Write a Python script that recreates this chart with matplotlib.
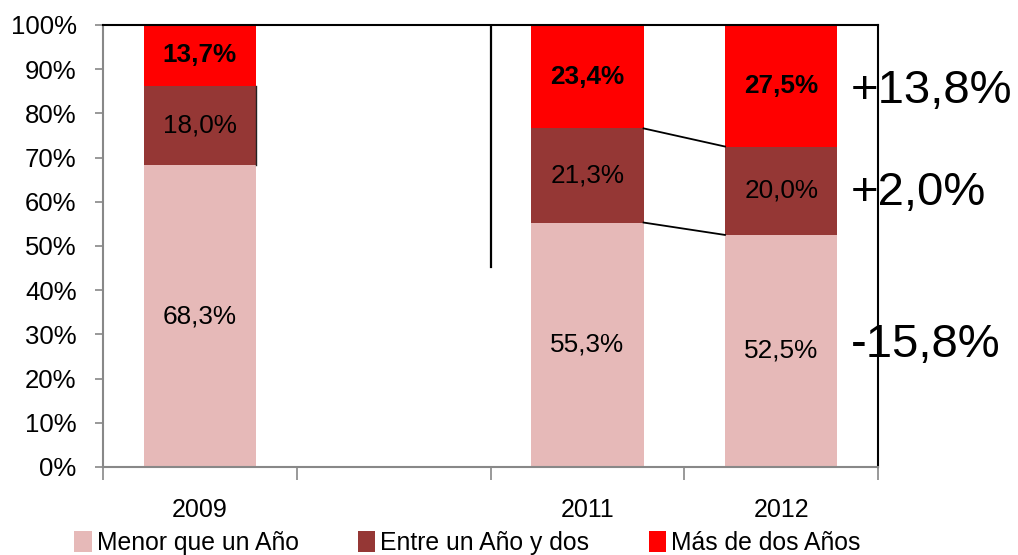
import matplotlib
matplotlib.use("Agg")
import matplotlib.pyplot as plt
from matplotlib.patches import Patch
from matplotlib.ticker import FixedLocator, PercentFormatter

plt.rcParams['font.family'] = ['Liberation Sans', 'DejaVu Sans']

years = ["2009", "2010", "2011", "2012"]
menor = [68.3, None, 55.3, 52.5]
entre = [18.0, None, 21.3, 20.0]
mas = [13.7, None, 23.4, 27.5]
series_names = ["Menor que un Año", "Entre un Año y dos", "Más de dos Años"]
changes = ["+13,8%", "+2,0%", "-15,8%"]
change_y = [85.0, 62.0, 27.6]

colors = ["#E6B9B8", "#953735", "#FF0000"]

fig = plt.figure(figsize=(10.18, 5.55), dpi=100)
ax = fig.add_axes([0.1012, 0.1586, 0.7613, 0.7964])

width = 0.58
idx = [i for i, v in enumerate(menor) if v is not None]
for i in idx:
    b = 0
    for k, (vals, col) in enumerate(zip([menor, entre, mas], colors)):
        v = vals[i]
        ax.bar(i, v, width, bottom=b, color=col, edgecolor='none', zorder=2)
        lab = f"{v:.1f}".replace(".", ",") + "%"
        ax.text(i, b + v / 2, lab, ha='center', va='center', fontsize=18.8,
                fontweight='bold' if k == 2 else 'normal', color='black', zorder=3)
        b += v

# thin edge on the 2009 middle segment
ax.plot([width / 2 - 0.003, width / 2 - 0.003], [menor[0], menor[0] + entre[0]],
        color='#222222', lw=1.0, zorder=3)

# connector lines between 2011 and 2012
i1, i2 = 2, 3
c1 = menor[i1]
c2 = menor[i2]
d1 = menor[i1] + entre[i1]
d2 = menor[i2] + entre[i2]
ax.plot([i1 + width / 2, i2 - width / 2], [c1, c2], color='black', lw=1.3, zorder=3)
ax.plot([i1 + width / 2, i2 - width / 2], [d1, d2], color='black', lw=1.3, zorder=3)

# vertical separator line
ax.plot([1.5, 1.5], [45.2, 100], color='black', lw=1.6, zorder=3)

# change annotations
for t, y in zip(changes, change_y):
    ax.text(3.36, y, t, ha='left', va='center', fontsize=34, clip_on=False, zorder=4)

ax.set_xlim(-0.5, 3.5)
ax.set_ylim(0, 100)
ax.yaxis.set_major_locator(FixedLocator(range(0, 101, 10)))
ax.yaxis.set_major_formatter(PercentFormatter(decimals=0))
ax.xaxis.set_major_locator(FixedLocator([-0.5, 0.5, 1.5, 2.5, 3.5]))
ax.xaxis.set_major_formatter(plt.NullFormatter())
ax.xaxis.set_minor_locator(FixedLocator(idx))
ax.set_xticklabels([years[i] for i in idx], minor=True)
ax.tick_params(axis='x', which='major', length=9, color='#888888', width=1.2, direction='out')
ax.tick_params(axis='x', which='minor', length=0, pad=22, labelsize=18)
ax.tick_params(axis='y', length=6, color='#888888', width=1.2, labelsize=18.5, pad=13)

for s in ['left', 'bottom']:
    ax.spines[s].set_color('#888888')
    ax.spines[s].set_linewidth(1.5)
for s in ['top', 'right']:
    ax.spines[s].set_color('black')
    ax.spines[s].set_linewidth(1.5)

handles = [Patch(facecolor=c, edgecolor='none') for c in colors]
fig.legend(handles, series_names, loc='lower center', bbox_to_anchor=(0.459, -0.04),
           ncol=3, frameon=False, fontsize=17.8, handlelength=0.7, handleheight=0.9,
           handletextpad=0.2, columnspacing=2.4)

fig.savefig("out.png", dpi=100)
